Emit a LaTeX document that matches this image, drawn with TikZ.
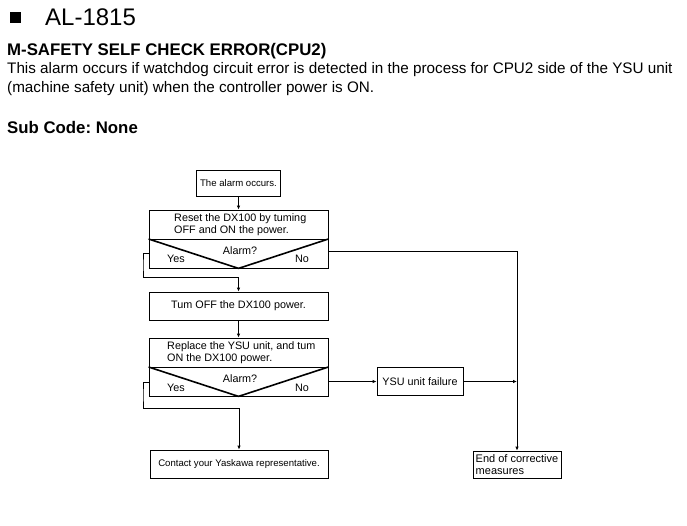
\documentclass[tikz,border=0pt]{standalone}
\usepackage{fontspec}
\setmainfont{Liberation Sans}
\usetikzlibrary{arrows.meta,calc}
\frenchspacing
\begin{document}
\begin{tikzpicture}[x=1pt,y=-1pt,
  box/.style={draw, line width=0.8pt, inner sep=0pt},
  ftxt/.style={font=\fontsize{10.8}{12.5}\selectfont, inner sep=0pt},
  stxt/.style={font=\fontsize{9.6}{11}\selectfont, inner sep=0pt},
  conn/.style={line width=0.8pt},
  arr/.style={conn, -{Latex[length=4pt,width=3.5pt]}},
  vee/.style={line width=1.6pt},
  hdr/.style={anchor=base west, inner sep=0pt},
]
\useasboundingbox (0,0) rectangle (687,526);
% header
\node[fill, minimum size=11pt, inner sep=0pt] (bullet) at (15,17.5) {};
\node[hdr, font=\fontsize{24}{28}\selectfont] (title) at (45,25.5) {AL-1815};
\node[hdr, font=\bfseries\fontsize{16.8}{20}\selectfont] (head) at (7,56) {M-SAFETY SELF CHECK ERROR(CPU2)};
\node[hdr, font=\fontsize{15.25}{19}\selectfont] (l1) at (7,74) {This alarm occurs if watchdog circuit error is detected in the process for CPU2 side of the YSU unit};
\node[hdr, font=\fontsize{15.25}{19}\selectfont] (l2) at (7,93) {(machine safety unit) when the controller power is ON.};
\node[hdr, font=\bfseries\fontsize{16.8}{20}\selectfont] (sub) at (7,134) {Sub Code: None};
% flowchart boxes
\node[box, minimum width=84pt, minimum height=26pt, stxt] (occ) at (238.5,183) {The alarm occurs.};
\node[box, minimum width=179pt, minimum height=58pt] (reset) at (238.5,239) {};
\node[ftxt, anchor=west, align=left] (resettxt) at (174,224.5) {Reset the DX100 by tuming\\OFF and ON the power.};
\draw[conn] (reset.west) -- (reset.east);
\draw[vee] (reset.west) -- (reset.south) -- (reset.east);
\node[ftxt] (alarm1) at (240,251) {Alarm?};
\node[ftxt] (yes1) at (176,259) {Yes};
\node[ftxt] (no1) at (302,259) {No};

\node[box, minimum width=179pt, minimum height=28pt, ftxt] (off) at (238.5,306) {Tum OFF the DX100 power.};

\node[box, minimum width=179pt, minimum height=58pt] (repl) at (238.5,367) {};
\node[ftxt, anchor=west, align=left] (repltxt) at (167,352.5) {Replace the YSU unit, and tum\\ON the DX100 power.};
\draw[conn] (repl.west) -- (repl.east);
\draw[vee] (repl.west) -- (repl.south) -- (repl.east);
\node[ftxt] (alarm2) at (240,379) {Alarm?};
\node[ftxt] (yes2) at (176,388) {Yes};
\node[ftxt] (no2) at (302,388) {No};

\node[box, minimum width=86pt, minimum height=28pt, ftxt] (ysu) at (420,381.5) {YSU unit failure};
\node[box, minimum width=178pt, minimum height=28pt, stxt] (contact) at (239,464) {Contact your Yaskawa representative.};
\node[box, minimum width=88pt, minimum height=27pt, font=\fontsize{11}{11.5}\selectfont, inner sep=0pt, align=left] (endb) at (517,464.5) {End of corrective\\measures};

% connectors
\draw[arr] (occ.south) -- (reset.north);
\coordinate (ry1) at (149,253);
\coordinate (lp1) at (143,265);
\coordinate (j1) at (238.5,277);
\draw[arr] (ry1) -| (lp1) |- (j1) -- (off.north);
\coordinate (rn1) at (328,251);
\coordinate (c1) at (517,251);
\draw[arr] (rn1) -- (c1) -- (endb.north);
\draw[arr] (off.south) -- (repl.north);
\coordinate (ry2) at (149,382);
\coordinate (lp2) at (143,395);
\coordinate (j2) at (239,408);
\draw[arr] (ry2) -| (lp2) |- (j2) -- (contact.north);
\coordinate (rn2) at (328,381.5);
\draw[arr] (rn2) -- (ysu.west);
\coordinate (c2) at (517,381.5);
\draw[arr] (ysu.east) -- (c2);
\end{tikzpicture}
\end{document}
